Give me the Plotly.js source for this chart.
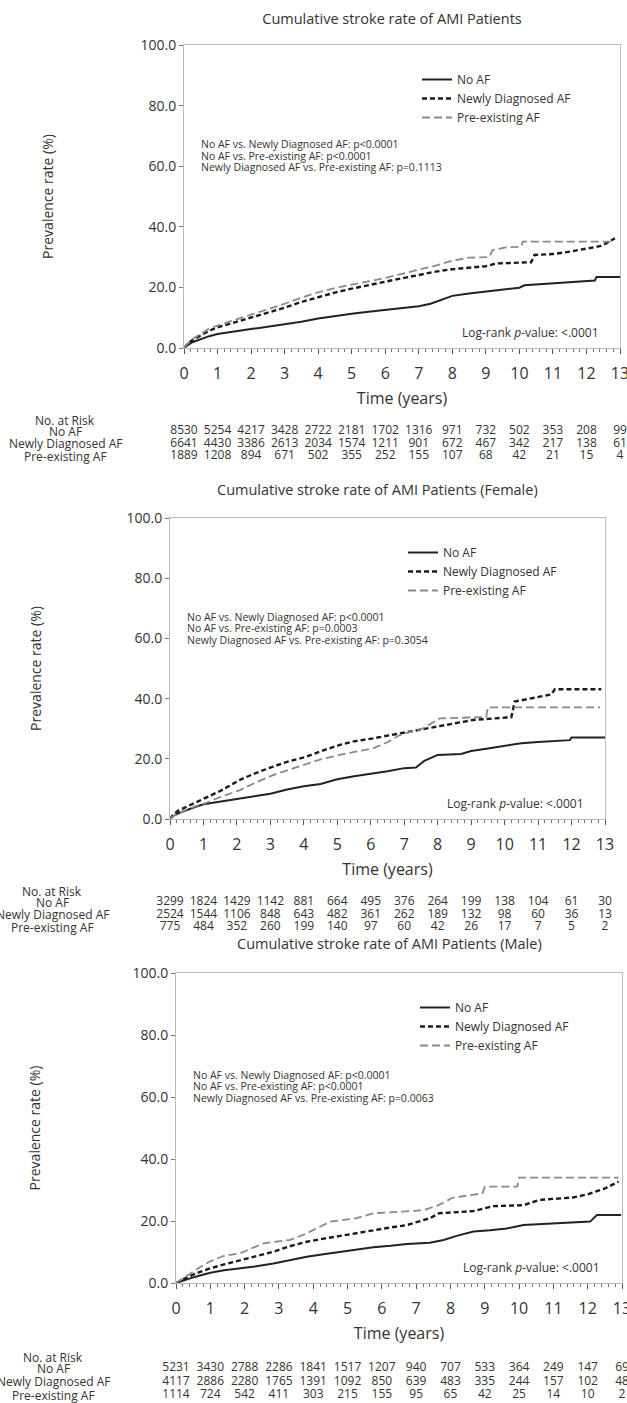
<!DOCTYPE html>
<html>
<head>
<meta charset="utf-8">
<script src="https://cdn.plot.ly/plotly-3.0.1.min.js"></script>
<style>html,body{margin:0;padding:0;background:#fff;}#chart{width:627px;height:1403px;}</style>
</head>
<body>
<div id="chart"></div>
<script>
// ---------------- DATA ----------------
const years = [0,1,2,3,4,5,6,7,8,9,10,11,12,13];
const groupNames = ['No AF','Newly Diagnosed AF','Pre-existing AF'];
const riskHeader = 'No. at Risk';
const panelTitles = ['Cumulative stroke rate of AMI Patients','Cumulative stroke rate of AMI Patients (Female)','Cumulative stroke rate of AMI Patients (Male)'];
const pairTests = [
  ['No AF vs. Newly Diagnosed AF: p<0.0001','No AF vs. Pre-existing AF: p<0.0001','Newly Diagnosed AF vs. Pre-existing AF: p=0.1113'],
  ['No AF vs. Newly Diagnosed AF: p<0.0001','No AF vs. Pre-existing AF: p=0.0003','Newly Diagnosed AF vs. Pre-existing AF: p=0.3054'],
  ['No AF vs. Newly Diagnosed AF: p<0.0001','No AF vs. Pre-existing AF: p<0.0001','Newly Diagnosed AF vs. Pre-existing AF: p=0.0063']
];
const logRankText = 'Log-rank <i>p</i>-value: <.0001';

// Number at risk
const allRiskNoAF  = [8530,5254,4217,3428,2722,2181,1702,1316,971,732,502,353,208,99];
const allRiskNew   = [6641,4430,3386,2613,2034,1574,1211,901,672,467,342,217,138,61];
const allRiskPre   = [1889,1208,894,671,502,355,252,155,107,68,42,21,15,4];
const femRiskNoAF  = [3299,1824,1429,1142,881,664,495,376,264,199,138,104,61,30];
const femRiskNew   = [2524,1544,1106,848,643,482,361,262,189,132,98,60,36,13];
const femRiskPre   = [775,484,352,260,199,140,97,60,42,26,17,7,5,2];
const maleRiskNoAF = [5231,3430,2788,2286,1841,1517,1207,940,707,533,364,249,147,69];
const maleRiskNew  = [4117,2886,2280,1765,1391,1092,850,639,483,335,244,157,102,48];
const maleRiskPre  = [1114,724,542,411,303,215,155,95,65,42,25,14,10,2];

// Cumulative stroke rate curves (time in years, rate in %)
const allNoAF_t = [0,0.1,0.25,0.5,0.75,1,1.5,2,2.5,3,3.5,4,4.5,5,5.5,6,6.5,7,7.35,7.7,8.0,8.5,9,9.5,10,10.15,11,11.5,12,12.25,12.3,13];
const allNoAF_y = [0,0.9,1.9,3.0,3.9,4.6,5.4,6.1,6.9,7.7,8.7,9.7,10.6,11.3,12.0,12.6,13.2,13.8,14.6,15.9,17.2,18.0,18.6,19.3,19.9,20.7,21.3,21.6,21.9,22.3,23.4,23.4];
const allNew_t  = [0,0.1,0.25,0.5,0.75,1,1.5,2,2.5,3,3.5,4,4.5,5,5.5,6,6.5,7,7.5,8,8.5,9,9.3,10,10.35,10.45,11,11.5,12,12.4,12.6,12.85];
const allNew_y  = [0,1.3,2.6,4.2,5.7,6.8,8.4,9.9,11.6,13.3,15.2,16.8,18.3,19.6,20.8,21.9,23.0,24.1,25.2,26.0,26.6,27.0,27.9,28.1,28.3,30.7,31.0,31.8,32.7,33.6,34.6,36.2];
const allPre_t  = [0,0.1,0.25,0.5,0.75,1,1.5,2,2.5,3,3.5,4,4.5,5,5.5,6,6.5,7,7.5,8,8.5,9.1,9.2,9.6,10.05,10.1,12.85];
const allPre_y  = [0,1.4,2.9,4.7,6.4,7.4,9.2,10.8,12.7,14.6,16.6,18.4,19.8,20.9,22.0,23.1,24.5,25.8,27.2,28.8,29.8,30.0,32.3,33.2,33.4,35.1,35.1];

const femNoAF_t = [0,0.1,0.25,0.5,0.75,1,1.5,2,2.5,3,3.5,4,4.5,5,5.5,6,6.5,7,7.35,7.6,8.0,8.7,9.0,9.5,10,10.5,11,11.5,11.95,12.0,13];
const femNoAF_y = [0,1.0,1.9,3.0,4.0,4.9,5.8,6.6,7.5,8.4,9.8,10.9,11.6,13.2,14.2,15.0,15.9,16.9,17.1,19.3,21.3,21.6,22.6,23.4,24.4,25.2,25.6,25.9,26.2,27.1,27.1];
const femNew_t  = [0,0.1,0.25,0.5,0.75,1.09,1.5,2.09,2.5,3.08,3.5,4.08,4.5,5.07,5.5,6.07,6.87,7.5,8.06,8.5,9.06,10.05,10.2,10.3,11.34,11.4,11.5,12.89];
const femNew_y  = [0,1.5,2.8,4.1,5.3,6.9,9.3,13.0,15.0,17.4,19.0,20.7,22.5,24.6,25.8,26.8,28.4,29.6,30.7,31.8,32.9,33.7,33.8,39.0,41.2,41.4,43.1,43.1];
const femPre_t  = [0,0.1,0.25,0.5,0.75,1.09,1.5,2.09,2.5,3.08,3.5,4.08,4.5,5.07,5.5,6.07,6.5,6.87,7.56,8.06,9.45,9.5,12.85];
const femPre_y  = [0,1.0,1.9,3.1,4.2,5.4,7.3,9.6,11.8,14.6,16.2,18.3,19.8,21.3,22.2,23.5,25.5,27.9,30.1,33.4,33.9,37.1,37.1];

const maleNoAF_t = [0,0.2,0.41,0.7,1,1.4,1.87,2.3,2.84,3.3,3.81,4.3,4.78,5.25,5.75,6.25,6.73,7.4,7.8,8.18,8.67,9.15,9.64,10.13,10.6,11.1,11.6,12.07,12.27,12.97];
const maleNoAF_y = [0,0.8,1.5,2.4,3.3,4.1,4.7,5.3,6.3,7.3,8.5,9.3,10.1,10.8,11.5,12.0,12.6,13.0,13.9,15.2,16.6,17.0,17.6,18.7,19.0,19.3,19.5,19.8,21.9,21.9];
const maleNew_t  = [0,0.2,0.41,0.7,0.99,1.4,1.87,2.3,2.84,3.3,3.81,4.3,4.78,5.25,5.75,6.25,6.73,7.4,7.67,8.2,8.67,9.25,10.13,10.6,11.1,11.57,12.0,12.5,12.9];
const maleNew_y  = [0,1.2,2.3,3.6,4.7,6.0,7.4,8.6,10.1,11.8,13.3,14.3,15.2,16.2,17.1,17.9,18.7,20.9,22.5,22.8,23.2,24.8,25.1,26.8,27.2,27.6,28.6,30.5,32.7];
const malePre_t  = [0,0.2,0.41,0.7,1.0,1.38,1.87,2.55,3.33,3.81,4.49,5.26,5.75,6.5,7.21,7.67,8.06,8.93,9.0,9.95,10.0,12.9];
const malePre_y  = [0,1.6,3.0,5.1,7.0,8.7,9.6,12.8,13.9,16.0,19.8,20.9,22.5,23.0,23.5,25.2,27.5,28.9,31.1,31.1,34.0,34.0];

// ---------------- LAYOUT GEOMETRY (pixels) ----------------
const W = 627, H = 1403;
const fx = p => p / W;
const fy = p => 1 - p / H;
const FONT = 'Open Sans, Lato, sans-serif';
const TXT = '#333333';

const panels = [
  {x0:184, x13:620, yTop:45, yBot:348, title:{cx:392, cy:19}, legend:{left:417, top:65}, riskRow1:431, riskStep:12.6, riskLabelCx:65, ytStandoff:83},
  {x0:170, x13:605, yTop:518, yBot:819, title:{cx:377, cy:489}, legend:{left:403, top:538}, riskRow1:902, riskStep:12.6, riskLabelCx:52, ytStandoff:81},
  {x0:176, x13:622, yTop:973, yBot:1283, title:{cx:389, cy:943}, legend:{left:415, top:993}, riskRow1:1368.5, riskStep:13.3, riskLabelCx:53, ytStandoff:88}
];

const curves = [
  [[allNoAF_t, allNoAF_y],[allNew_t, allNew_y],[allPre_t, allPre_y]],
  [[femNoAF_t, femNoAF_y],[femNew_t, femNew_y],[femPre_t, femPre_y]],
  [[maleNoAF_t, maleNoAF_y],[maleNew_t, maleNew_y],[malePre_t, malePre_y]]
];
const risks = [
  [allRiskNoAF, allRiskNew, allRiskPre],
  [femRiskNoAF, femRiskNew, femRiskPre],
  [maleRiskNoAF, maleRiskNew, maleRiskPre]
];
const lineStyles = [
  {color:'#222222', width:2, dash:'solid'},
  {color:'#1a1a1a', width:2.4, dash:'5px,3px'},
  {color:'#8a8a8a', width:1.8, dash:'8px,4px'}
];

const traces = [];
const layout = {
  width: W, height: H,
  margin: {l:0, r:0, t:0, b:0},
  paper_bgcolor: '#ffffff', plot_bgcolor: '#ffffff',
  font: {family: FONT, color: TXT},
  showlegend: true,
  title: {text: panelTitles[0], x: fx(panels[0].title.cx), xanchor: 'center', xref: 'paper',
          y: fy(panels[0].title.cy), yanchor: 'middle', yref: 'paper', font: {size: 14.5, color: TXT, family: FONT}},
  annotations: []
};

panels.forEach((p, i) => {
  const n = i + 1;
  const xa = n === 1 ? 'x' : 'x' + n;
  const ya = n === 1 ? 'y' : 'y' + n;
  const ra = 'y' + (n + 3);
  const legName = n === 1 ? 'legend' : 'legend' + n;

  curves[i].forEach((c, g) => {
    traces.push({
      type: 'scatter', mode: 'lines', x: c[0], y: c[1], name: groupNames[g],
      xaxis: xa, yaxis: ya, legend: legName, line: Object.assign({shape: 'linear'}, lineStyles[g]),
      hoverinfo: 'skip'
    });
  });
  risks[i].forEach((r, g) => {
    traces.push({
      type: 'scatter', mode: 'text', x: years, y: years.map(() => g + 1),
      text: r.map(String), textposition: 'middle center', cliponaxis: false,
      textfont: {size: 12, color: TXT, family: FONT},
      xaxis: xa, yaxis: ra, showlegend: false, hoverinfo: 'skip'
    });
  });

  layout[n === 1 ? 'xaxis' : 'xaxis' + n] = {
    domain: [fx(p.x0), fx(p.x13)], range: [0, 13], anchor: ya,
    showline: true, mirror: true, linecolor: '#bcbcbc', linewidth: 1,
    showgrid: false, zeroline: false,
    tickmode: 'linear', tick0: 0, dtick: 1,
    ticks: 'outside', ticklen: 5, tickcolor: '#555555', tickwidth: 1,
    minor: {ticks: 'outside', dtick: 0.2, tick0: 0, ticklen: 2.5, tickcolor: '#777777', showgrid: false},
    tickfont: {size: 16, color: TXT, family: FONT}, ticklabelstandoff: 6, ticklabeloverflow: 'allow',
    title: {text: 'Time (years)', font: {size: 16, color: TXT, family: FONT}, standoff: 9}
  };
  layout[n === 1 ? 'yaxis' : 'yaxis' + n] = {
    domain: [fy(p.yBot), fy(p.yTop)], range: [0, 100], anchor: xa,
    showline: true, mirror: true, linecolor: '#bcbcbc', linewidth: 1,
    showgrid: false, zeroline: false,
    tickmode: 'linear', tick0: 0, dtick: 20, tickformat: '.1f',
    ticks: 'outside', ticklen: 4, tickcolor: '#777777',
    tickfont: {size: 14, color: TXT, family: FONT},
    title: {text: 'Prevalence rate (%)', font: {size: 14, color: TXT, family: FONT}, standoff: p.ytStandoff}
  };
  const rTop = p.riskRow1 - 1.5 * p.riskStep, rBot = p.riskRow1 + 2.5 * p.riskStep;
  layout['yaxis' + (n + 3)] = {
    domain: [fy(rBot), fy(rTop)], range: [3.5, -0.5], anchor: xa, visible: false, fixedrange: true
  };

  layout[legName] = {
    x: fx(p.legend.left), xanchor: 'left', y: fy(p.legend.top), yanchor: 'top',
    xref: 'paper', yref: 'paper', bgcolor: 'rgba(0,0,0,0)', borderwidth: 0,
    font: {size: 12, color: TXT, family: FONT}, itemwidth: 30, tracegroupgap: 0
  };

  if (i > 0) {
    layout.annotations.push({text: panelTitles[i], xref: 'paper', yref: 'paper',
      x: fx(p.title.cx), y: fy(p.title.cy), xanchor: 'center', yanchor: 'middle', showarrow: false,
      font: {size: 14.5, color: TXT, family: FONT}});
  }
  const testY = [67.2, 63.4, 59.6];
  pairTests[i].forEach((t, k) => {
    layout.annotations.push({text: t, xref: xa, yref: ya, x: 0.45, y: testY[k],
      xanchor: 'left', yanchor: 'middle', showarrow: false, font: {size: 10.5, color: TXT, family: FONT}});
  });
  layout.annotations.push({text: logRankText, xref: xa, yref: ya, x: 12.42, y: 5,
    xanchor: 'right', yanchor: 'middle', showarrow: false, font: {size: 12, color: TXT, family: FONT}});
  const rl = [riskHeader].concat(groupNames);
  const rlY = [1 - 10.7 / p.riskStep, 1, 2, 3];
  rl.forEach((t, k) => {
    layout.annotations.push({text: t, xref: 'paper', yref: ra, x: fx(p.riskLabelCx), y: rlY[k],
      xanchor: 'center', yanchor: 'middle', showarrow: false, font: {size: 12, color: TXT, family: FONT}});
  });
});

Plotly.newPlot('chart', traces, layout, {staticPlot: true, displayModeBar: false});
</script>
</body>
</html>
